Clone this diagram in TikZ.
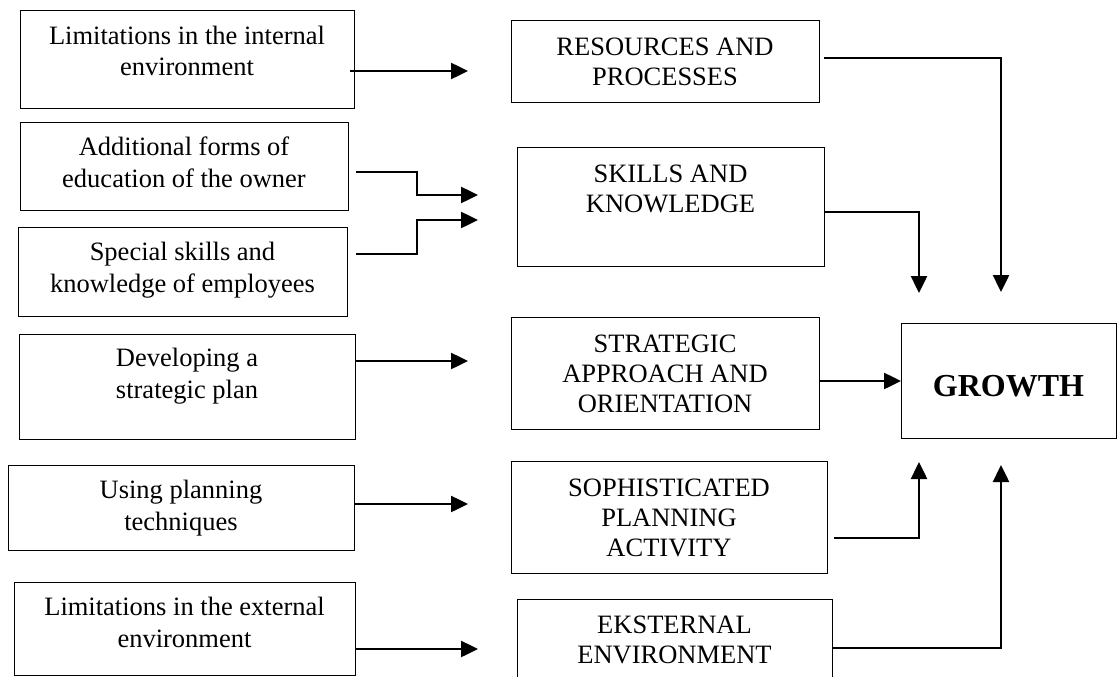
\documentclass[tikz,border=0pt]{standalone}
\usepackage{fontspec}
\setmainfont{Liberation Serif}
\usetikzlibrary{arrows.meta}
\begin{document}
\begin{tikzpicture}[x=1pt,y=-1pt,
  boxn/.style={draw, line width=1.3pt, inner sep=0pt, anchor=north west},
  txt/.style={font=\fontsize{26.5}{31.5}\selectfont, align=center, anchor=base, inner sep=0pt},
  mtxt/.style={font=\fontsize{26.5}{30}\selectfont, align=center, anchor=base, inner sep=0pt},
  conn/.style={line width=2.5pt, -{Triangle[length=17pt,width=16pt]}}]
\clip (0,0) rectangle (1119,677);
\fill[white] (0,0) rectangle (1119,677);
% left boxes
\node[boxn, minimum width=334pt, minimum height=98pt]  (l1) at (20,10) {};
\node[boxn, minimum width=328pt, minimum height=88pt]  (l2) at (20,122) {};
\node[boxn, minimum width=329pt, minimum height=89pt]  (l3) at (18,227) {};
\node[boxn, minimum width=336pt, minimum height=105pt] (l4) at (19,334) {};
\node[boxn, minimum width=346pt, minimum height=85pt]  (l5) at (8,465) {};
\node[boxn, minimum width=341pt, minimum height=93pt]  (l6) at (14,582) {};
% middle boxes
\node[boxn, minimum width=308pt, minimum height=82pt]  (m1) at (511,20) {};
\node[boxn, minimum width=307pt, minimum height=119pt] (m2) at (517,147) {};
\node[boxn, minimum width=308pt, minimum height=112pt] (m3) at (511,317) {};
\node[boxn, minimum width=316pt, minimum height=112pt] (m4) at (511,461) {};
\node[boxn, minimum width=315pt, minimum height=110pt] (m5) at (517,599) {};
% growth
\node[boxn, minimum width=215pt, minimum height=115pt] (g) at (901,323) {};
% texts (anchored at the baseline of their last line)
\node[txt] (tl1) at (187,76) {Limitations in the internal\\environment};
\node[txt] (tl2) at (184,187) {Additional forms of\\education of the owner};
\node[txt] (tl3) at (182.5,292) {Special skills and\\knowledge of employees};
\node[txt] (tl4) at (187,398) {Developing a\\strategic plan};
\node[txt] (tl5) at (181,530) {Using planning\\techniques};
\node[txt] (tl6) at (184.5,647) {Limitations in the external\\environment};
\node[mtxt] (tm1) at (665,85) {RESOURCES AND\\PROCESSES};
\node[mtxt] (tm2) at (670.5,212) {SKILLS AND\\KNOWLEDGE};
\node[mtxt] (tm3) at (665,412) {STRATEGIC\\APPROACH AND\\ORIENTATION};
\node[mtxt] (tm4) at (669,556) {SOPHISTICATED\\PLANNING\\ACTIVITY};
\node[mtxt] (tm5) at (674.5,663) {EKSTERNAL\\ENVIRONMENT};
\node[anchor=base, inner sep=0pt, font=\fontsize{32}{38}\selectfont\bfseries] (tg) at (1008.5,396) {GROWTH};
% free arrow ends
\coordinate (p1) at (468,71);
\coordinate (p2) at (478,195);
\coordinate (p3) at (478,220);
\coordinate (p4) at (468,361);
\coordinate (p5) at (468,504);
\coordinate (p6) at (478,649);
\coordinate (q1) at (1001,292);
\coordinate (q2) at (919,293);
\coordinate (q4) at (919,462);
\coordinate (q5) at (1001,465);
% left connectors
\draw[conn] ([xshift=-5pt]l1.east |- p1) -- (p1);
\draw[conn] ([xshift=7pt]l2.east |- 0,172) -| (417,195) -- (p2);
\draw[conn] ([xshift=8pt]l3.east |- 0,254) -| (417,220) -- (p3);
\draw[conn] (l4.east |- p4) -- (p4);
\draw[conn] (l5.east |- p5) -- (p5);
\draw[conn] (l6.east |- p6) -- (p6);
% right connectors
\draw[conn] ([xshift=4pt]m1.east |- 0,58) -| (q1);
\draw[conn] (m2.east |- 0,212) -| (q2);
\draw[conn] (m3.east |- 0,381) -- (g.west |- 0,381);
\draw[conn] ([xshift=6pt]m4.east |- 0,538) -| (q4);
\draw[conn] (m5.east |- 0,648) -| (q5);
\end{tikzpicture}
\end{document}
